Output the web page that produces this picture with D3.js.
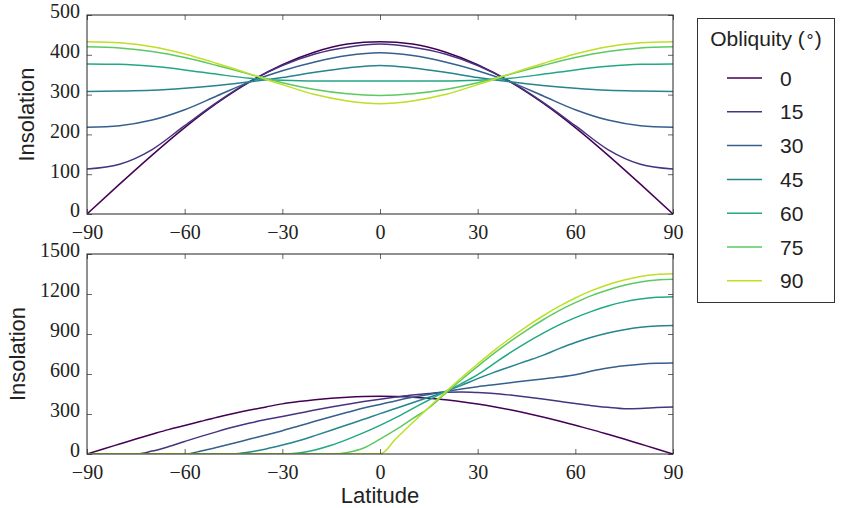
<!DOCTYPE html>
<html>
<head>
<meta charset="utf-8">
<script src="https://cdn.jsdelivr.net/npm/d3@7"></script>
<style>
  html, body { margin: 0; padding: 0; background: #fff; }
  svg { display: block; }
</style>
</head>
<body>
<svg id="chart" width="841" height="508"></svg>
<script>
// Obliquities shown (degrees) and their legend labels
const obliquities = [0, 15, 30, 45, 60, 75, 90];

// Annual-mean insolation, latitude every 10 degrees from -90 to 90
const annualLat = [-90, -80, -70, -60, -50, -40, -30, -20, -10, 0, 10, 20, 30, 40, 50, 60, 70, 80, 90];
const annual0  = [0, 75, 148, 217, 279, 332, 375, 407, 427, 433, 427, 407, 375, 332, 279, 217, 148, 75, 0];
const annual15 = [113, 125, 162, 222, 281, 333, 373, 402, 419, 427, 419, 402, 373, 333, 281, 222, 162, 125, 113];
const annual30 = [218, 222, 236, 262, 297, 332, 360, 382, 398, 405, 398, 382, 360, 332, 297, 262, 236, 222, 218];
const annual45 = [308, 309, 311, 316, 323, 332, 343, 356, 367, 373, 367, 356, 343, 332, 323, 316, 311, 309, 308];
const annual60 = [377, 376, 371, 362, 351, 341, 336, 334, 334, 334, 334, 334, 336, 341, 351, 362, 371, 376, 377];
const annual75 = [420, 417, 408, 393, 373, 351, 330, 313, 302, 298, 302, 313, 330, 351, 373, 393, 408, 417, 420];
const annual90 = [433, 430, 420, 402, 378, 352, 325, 300, 284, 277, 284, 300, 325, 352, 378, 402, 420, 430, 433];

// June-solstice insolation, latitude every 5 degrees from -90 to 90
const solsticeLat = [-90, -85, -80, -75, -70, -65, -60, -55, -50, -45, -40, -35, -30, -25, -20, -15, -10, -5, 0,
                     5, 10, 15, 20, 25, 30, 35, 40, 45, 50, 55, 60, 65, 70, 75, 80, 85, 90];
const solstice0  = [0, 38, 75, 112, 148, 183, 213, 245, 276, 304, 330, 353, 376, 393, 407, 418, 426, 431, 433,
                    431, 426, 418, 407, 392, 375, 355, 332, 306, 278, 248, 215, 183, 148, 112, 75, 38, 0];
const solstice15 = [0, 0, 0, 0, 22, 55, 94, 132, 168, 202, 232, 258, 281, 305, 330, 352, 373, 393, 411,
                    427, 442, 454, 463, 465, 461, 454, 442, 428, 412, 395, 378, 362, 350, 340, 342, 348, 352];
const solstice30 = [0, 0, 0, 0, 0, 0, 0, 22, 50, 80, 112, 143, 175, 210, 245, 280, 313, 345, 372,
                    400, 425, 447, 467, 487, 505, 520, 535, 550, 563, 577, 595, 622, 645, 661, 673, 680, 682];
const solstice45 = [0, 0, 0, 0, 0, 0, 0, 0, 0, 0, 15, 38, 67, 100, 138, 178, 220, 260, 303,
                    343, 385, 425, 467, 515, 565, 612, 655, 697, 740, 790, 836, 875, 907, 932, 950, 960, 963];
const solstice60 = [0, 0, 0, 0, 0, 0, 0, 0, 0, 0, 0, 0, 0, 8, 30, 65, 110, 160, 215,
                    275, 340, 405, 468, 528, 595, 678, 760, 836, 905, 968, 1023, 1070, 1110, 1141, 1162, 1175, 1180];
const solstice75 = [0, 0, 0, 0, 0, 0, 0, 0, 0, 0, 0, 0, 0, 0, 0, 0, 12, 45, 112,
                    185, 265, 345, 452, 557, 657, 754, 845, 928, 1005, 1075, 1135, 1188, 1230, 1265, 1290, 1305, 1310];
const solstice90 = [0, 0, 0, 0, 0, 0, 0, 0, 0, 0, 0, 0, 0, 0, 0, 0, 0, 0, 0,
                    118, 235, 350, 463, 572, 675, 775, 868, 955, 1035, 1107, 1170, 1225, 1270, 1305, 1332, 1347, 1352];

// Axis ticks
const latTicks = [-90, -60, -30, 0, 30, 60, 90];
const annualTicks = [0, 100, 200, 300, 400, 500];
const solsticeTicks = [0, 300, 600, 900, 1200, 1500];

const annualSeries = [annual0, annual15, annual30, annual45, annual60, annual75, annual90];
const solsticeSeries = [solstice0, solstice15, solstice30, solstice45, solstice60, solstice75, solstice90];

const color = d3.scaleOrdinal()
  .domain(obliquities)
  .range(obliquities.map((o, i) => d3.interpolateViridis(i / (obliquities.length - 1) * 0.9)));

const svg = d3.select("#chart");
const serif = "'Liberation Serif', 'DejaVu Serif', serif";
const sans = "'Liberation Sans', Arial, sans-serif";

function panel(opts) {
  const { top, bottom, yMax, yTicks, lat, series, labelX } = opts;
  const left = 87, right = 673;
  const x = d3.scaleLinear().domain([-90, 90]).range([left, right]);
  const y = d3.scaleLinear().domain([0, yMax]).range([bottom, top]);
  const g = svg.append("g");

  const line = d3.line()
    .x((d, i) => x(lat[i]))
    .y(d => y(d))
    .curve(d3.curveMonotoneX);

  const clipId = "clip" + top;
  svg.append("clipPath").attr("id", clipId)
    .append("rect").attr("x", left).attr("y", top).attr("width", right - left).attr("height", bottom - top);

  g.append("g").attr("clip-path", `url(#${clipId})`)
    .selectAll("path")
    .data(series)
    .join("path")
    .attr("d", d => line(d))
    .attr("fill", "none")
    .attr("stroke", (d, i) => color(obliquities[i]))
    .attr("stroke-width", 1.5);

  // Inward ticks on all four sides, labels only bottom/left
  const tickLen = 5;
  const axB = d3.axisBottom(x).tickValues(latTicks).tickSizeInner(-tickLen).tickSizeOuter(0)
    .tickPadding(11).tickFormat(d => d < 0 ? "\u2212" + Math.abs(d) : String(d));
  const axT = d3.axisTop(x).tickValues(latTicks).tickSizeInner(-tickLen).tickSizeOuter(0).tickFormat("");
  const axL = d3.axisLeft(y).tickValues(yTicks).tickSizeInner(-tickLen).tickSizeOuter(0)
    .tickPadding(7).tickFormat(d3.format("d"));
  const axR = d3.axisRight(y).tickValues(yTicks).tickSizeInner(-tickLen).tickSizeOuter(0).tickFormat("");

  const gB = g.append("g").attr("transform", `translate(0,${bottom})`).call(axB);
  const gT = g.append("g").attr("transform", `translate(0,${top})`).call(axT);
  const gL = g.append("g").attr("transform", `translate(${left},0)`).call(axL);
  const gR = g.append("g").attr("transform", `translate(${right},0)`).call(axR);
  [gB, gT, gL, gR].forEach(a => {
    a.select(".domain").remove();
    a.selectAll(".tick line").attr("stroke", "#666").attr("stroke-width", 1);
    a.selectAll(".tick text").attr("font-family", serif).attr("font-size", 20).attr("fill", "#222");
  });
  gB.selectAll(".tick text").attr("dy", "0.71em");
  gL.selectAll(".tick text").attr("dy", "0.14em");

  g.append("rect")
    .attr("x", left).attr("y", top)
    .attr("width", right - left).attr("height", bottom - top)
    .attr("fill", "none").attr("stroke", "#222").attr("stroke-width", 1);

  g.append("text")
    .attr("transform", `translate(${labelX},${(top + bottom) / 2}) rotate(-90)`)
    .attr("text-anchor", "middle")
    .attr("font-family", sans).attr("font-size", 22).attr("fill", "#222")
    .text("Insolation");

  return { x, y };
}

panel({ top: 15, bottom: 214, yMax: 500, yTicks: annualTicks, lat: annualLat, series: annualSeries, labelX: 34 });
panel({ top: 254, bottom: 454, yMax: 1500, yTicks: solsticeTicks, lat: solsticeLat, series: solsticeSeries, labelX: 25 });

svg.append("text")
  .attr("x", 380).attr("y", 503)
  .attr("text-anchor", "middle")
  .attr("font-family", sans).attr("font-size", 22).attr("fill", "#222")
  .text("Latitude");

// Legend
const lg = svg.append("g");
lg.append("rect")
  .attr("x", 697.5).attr("y", 18.5).attr("width", 137).attr("height", 284)
  .attr("fill", "#fff").attr("stroke", "#333").attr("stroke-width", 1);
const title = lg.append("text")
  .attr("x", 766).attr("y", 46)
  .attr("text-anchor", "middle")
  .attr("font-family", sans).attr("font-size", 21).attr("fill", "#222");
title.append("tspan").text("Obliquity (");
title.append("tspan").attr("dy", -4).attr("font-size", 16).text("\u2218");
title.append("tspan").attr("dy", 4).text(")");

const rows = lg.selectAll("g.row")
  .data(obliquities)
  .join("g")
  .attr("class", "row")
  .attr("transform", (d, i) => `translate(0,${78 + i * 33.8})`);
rows.append("line")
  .attr("x1", 727).attr("x2", 762)
  .attr("stroke", d => color(d)).attr("stroke-width", 1.5);
rows.append("text")
  .attr("x", 780).attr("y", 0).attr("dy", "0.36em")
  .attr("font-family", sans).attr("font-size", 21).attr("fill", "#222")
  .text(d => d);
</script>
</body>
</html>
